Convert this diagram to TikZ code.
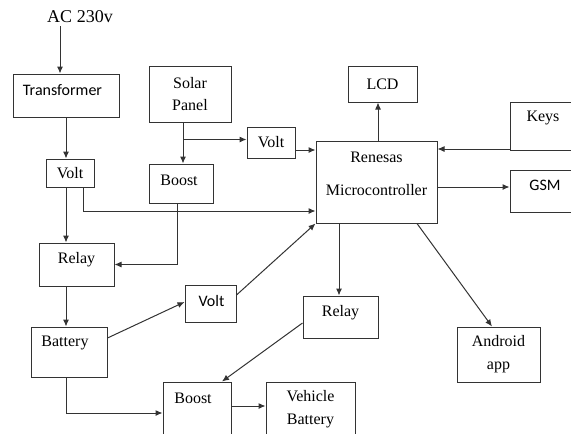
\documentclass[tikz,border=0pt]{standalone}
\usepackage{fontspec}
\setmainfont{Liberation Serif}
\newfontfamily\calib{Carlito}
\usetikzlibrary{arrows.meta,calc}
\begin{document}
\begin{tikzpicture}[x=1pt,y=-1pt,
  box/.style={draw=black!80, line width=1pt, inner sep=0pt, align=center, font=\fontsize{16}{22}\selectfont},
  lbl/.style={inner sep=0pt, align=center, font=\fontsize{16}{22}\selectfont},
  arr/.style={draw=black!80, line width=1pt, -{Latex[length=7pt,width=6pt]}},
  ln/.style={draw=black!80, line width=1pt}]
\useasboundingbox (0,0) rectangle (571,434);
\clip (0,0) rectangle (571,434);

% nodes
\node[inner sep=3pt, font=\fontsize{18}{22}\selectfont] (ac) at (80,17) {AC 230v};
\node[box, minimum width=106pt, minimum height=43pt, label={[lbl,xshift=-3.5pt,yshift=5.5pt]center:{\calib Transformer}}] (trans) at (66,95.5) {};
\node[box, minimum width=82pt, minimum height=56pt] (solar) at (190,94) {Solar\\Panel};
\node[box, minimum width=48pt, minimum height=28pt] (volt1) at (70,173) {Volt};
\node[box, minimum width=64pt, minimum height=39pt, label={[lbl,xshift=-2pt,yshift=3pt]center:Boost}] (boost1) at (181,183.5) {};
\node[box, minimum width=48pt, minimum height=31pt] (volt2) at (271,142.5) {Volt};
\node[box, minimum width=69pt, minimum height=36pt] (lcd) at (382.5,84) {LCD};
\node[box, minimum width=121pt, minimum height=82pt, label={[lbl,font=\fontsize{16}{33}\selectfont,yshift=8.5pt]center:{Renesas\\Microcontroller}}] (micro) at (376.5,182) {};
\node[box, minimum width=80pt, minimum height=48pt, label={[lbl,xshift=-7pt,yshift=8pt]center:Keys}] (keys) at (550,126) {};
\node[box, minimum width=80pt, minimum height=42pt, label={[lbl,xshift=-5pt,yshift=6pt]center:{\calib GSM}}] (gsm) at (550,191) {};
\node[box, minimum width=75pt, minimum height=43pt, label={[lbl,yshift=4.5pt]center:Relay}] (relay1) at (76.5,264.5) {};
\node[box, minimum width=76pt, minimum height=50pt, label={[lbl,xshift=-4pt,yshift=9pt]center:Battery}] (battery) at (69,352) {};
\node[box, minimum width=51pt, minimum height=37pt, label={[lbl,xshift=1pt,yshift=2pt]center:{\calib Volt}}] (volt3) at (210.5,303.5) {};
\node[box, minimum width=75pt, minimum height=42pt, label={[lbl,yshift=4pt]center:Relay}] (relay2) at (340.5,317) {};
\node[box, minimum width=83pt, minimum height=55pt, font=\fontsize{16}{23}\selectfont] (android) at (498.5,354.5) {Android\\app};
\node[box, minimum width=68pt, minimum height=68pt, label={[lbl,xshift=-4pt,yshift=18pt]center:Boost}] (boost2) at (197,416) {};
\node[box, minimum width=89pt, minimum height=68pt, label={[lbl,font=\fontsize{16}{23}\selectfont,yshift=6.5pt]center:{Vehicle\\Battery}}] (vehicle) at (310.5,416) {};

% connectors
\coordinate (acx) at ([xshift=-20pt]ac.south);
\draw[arr] (acx) -- (acx |- trans.north);
\draw[arr] (trans.south) -- (trans.south |- volt1.north);
\draw[arr] (volt1.south -| trans.south) -- (trans.south |- relay1.north);
\coordinate (v1x) at ([xshift=13pt]volt1.south);
\coordinate (m1) at ($(micro.west)+(0,29)$);
\draw[arr] (v1x) |- (m1);
\coordinate (sx) at ([xshift=-7pt]solar.south);
\draw[arr] (sx) -- (sx |- boost1.north);
\coordinate (br) at ($(sx)+(0,17)$);
\draw[arr] (br) -- (br -| volt2.west);
\coordinate (v2e) at ($(volt2.east)+(0,7.5)$);
\draw[arr] (v2e) -- (v2e -| micro.west);
\coordinate (mn) at ([xshift=1.5pt]micro.north);
\draw[arr] (mn) -- (mn |- lcd.south);
\coordinate (kw) at ($(keys.west)+(0,23)$);
\draw[arr] (kw) -- (kw -| micro.east);
\coordinate (me) at ($(micro.east)+(0,5)$);
\draw[arr] (me) -- (me -| gsm.west);
\coordinate (b1s) at ([xshift=-4pt]boost1.south);
\draw[arr] (b1s) |- (relay1.east);
\draw[arr] (trans.south |- relay1.south) -- (trans.south |- battery.north);
\coordinate (bae) at ($(battery.east)+(0,-14)$);
\coordinate (v3w) at ($(volt3.west)+(0,-1.5)$);
\draw[arr] (bae) -- (v3w);
\coordinate (v3e) at ($(volt3.east)+(0,-8.5)$);
\draw[arr] (v3e) -- (micro.south west);
\coordinate (ms1) at ([xshift=-37.5pt]micro.south);
\draw[arr] (ms1) -- (ms1 |- relay2.north);
\coordinate (ms2) at ([xshift=40.5pt]micro.south);
\coordinate (an) at ([xshift=-6.5pt]android.north);
\draw[arr] (ms2) -- (an);
\coordinate (r2w) at ($(relay2.west)+(0,6)$);
\coordinate (b2n) at ([xshift=25pt]boost2.north);
\draw[arr] (r2w) -- (b2n);
\coordinate (b2w) at ($(boost2.west)+(0,-3)$);
\draw[arr] (trans.south |- battery.south) |- (b2w);
\coordinate (b2e) at ($(boost2.east)+(0,-10)$);
\draw[arr] (b2e) -- (b2e -| vehicle.west);
\end{tikzpicture}
\end{document}
